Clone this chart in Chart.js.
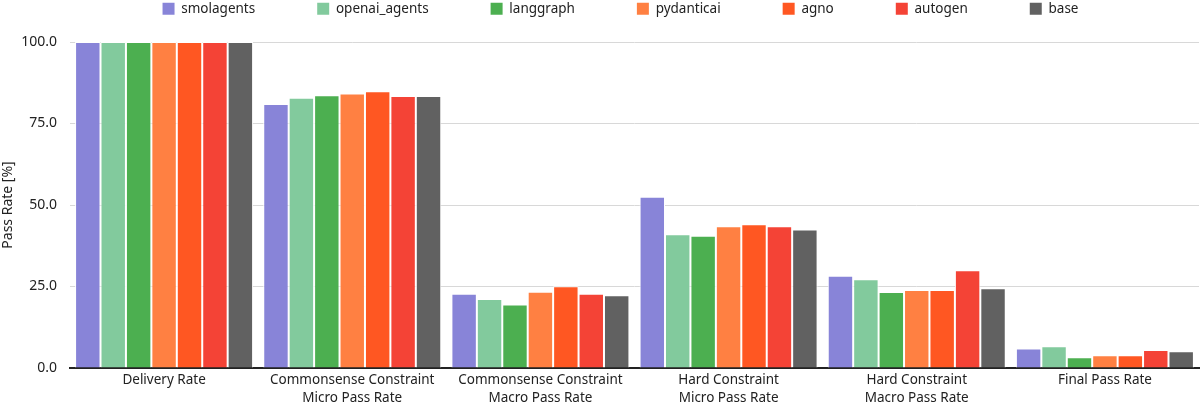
<!DOCTYPE html>
<html><head><meta charset="utf-8">
<script src="https://cdn.jsdelivr.net/npm/chart.js@4"></script>
<style>html,body{margin:0;padding:0;background:#fff}#wrap{width:1200px;height:404px}</style>
</head><body><div id="wrap"><canvas id="c"></canvas></div>
<script>
const categories = [
  "Delivery Rate",
  ["Commonsense Constraint","Micro Pass Rate"],
  ["Commonsense Constraint","Macro Pass Rate"],
  ["Hard Constraint","Micro Pass Rate"],
  ["Hard Constraint","Macro Pass Rate"],
  "Final Pass Rate"
];
const seriesNames = ["smolagents","openai_agents","langgraph","pydanticai","agno","autogen","base"];
const smolagents   = [100, 81.0, 22.8, 52.5, 28.3, 6.0];
const openai_agents= [100, 82.9, 21.2, 41.0, 27.2, 6.7];
const langgraph    = [100, 83.7, 19.5, 40.6, 23.3, 3.3];
const pydanticai   = [100, 84.2, 23.4, 43.5, 23.9, 3.9];
const agno         = [100, 84.9, 25.1, 44.1, 23.9, 3.9];
const autogen      = [100, 83.4, 22.8, 43.5, 30.0, 5.5];
const base         = [100, 83.4, 22.3, 42.5, 24.5, 5.1];
const seriesValues = [smolagents, openai_agents, langgraph, pydanticai, agno, autogen, base];
const colors = ["#8884d8","#82ca9d","#4caf50","#ff8042","#ff5722","#f44336","#616161"];
const yTicks = [0, 25, 50, 75, 100];

const FONT = "'Noto Sans', 'DejaVu Sans', sans-serif";
Chart.defaults.font.family = FONT;
Chart.defaults.color = "#222";

const LEG_PAD = 62;
const legendFix = {
  id: 'legendFix',
  beforeInit(chart) {
    const orig = chart.legend.fit;
    chart.legend.fit = function() { orig.call(this); this.height = 42; };
  },
  afterLayout(chart) {
    const lg = chart.legend;
    lg.top = -LEG_PAD + 2;
    lg.bottom = 42;
    lg.left += 21; lg.right += 21;
  }
};

new Chart(document.getElementById('c'), {
  type: 'bar',
  data: {
    labels: categories,
    datasets: seriesNames.map((n, i) => ({
      label: n,
      data: seriesValues[i],
      backgroundColor: colors[i],
      borderColor: '#ffffff',
      borderWidth: 1,
      categoryPercentage: 0.946,
      barPercentage: 1.0
    }))
  },
  plugins: [legendFix],
  options: {
    responsive: true,
    maintainAspectRatio: false,
    animation: false,
    layout: { padding: { left: 0, right: 1, top: 0, bottom: 0 } },
    plugins: {
      tooltip: { enabled: false },
      legend: {
        position: 'top',
        labels: {
          boxWidth: 12, boxHeight: 12, padding: LEG_PAD,
          font: { size: 13.5, family: FONT },
          color: '#222',
          generateLabels(chart) {
            return chart.data.datasets.map((d, i) => ({
              text: d.label, fillStyle: colors[i], strokeStyle: colors[i], lineWidth: 0,
              fontColor: '#222', datasetIndex: i, hidden: false
            }));
          }
        }
      }
    },
    scales: {
      x: {
        afterFit(s) { s.height = 36; },
        grid: { display: false, drawTicks: false },
        border: { display: true, color: '#222', width: 2 },
        ticks: { font: { size: 13.5, family: FONT, lineHeight: 1.35 }, color: '#222', maxRotation: 0, autoSkip: false, padding: 3 }
      },
      y: {
        min: 0, max: 100,
        afterFit(s) { s.width = 70; },
        afterBuildTicks(s) { s.ticks = yTicks.map(v => ({ value: v })); },
        grid: { color: '#d8d8d8', drawTicks: false, lineWidth: 1 },
        border: { display: false },
        ticks: { font: { size: 14, family: FONT }, color: '#222', padding: 13, callback: v => Number(v).toFixed(1) },
        title: { display: true, text: 'Pass Rate [%]', font: { size: 14, family: FONT }, color: '#222', padding: 0 }
      }
    }
  }
});
</script></body></html>
